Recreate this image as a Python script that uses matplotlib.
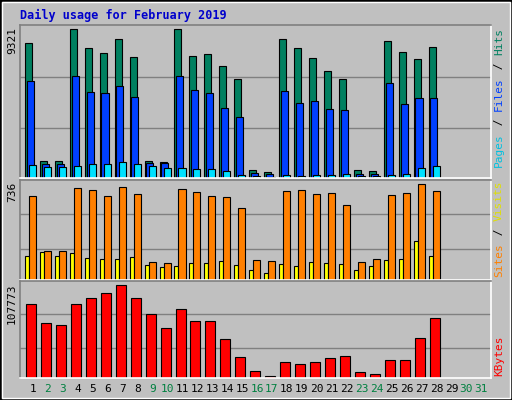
import matplotlib
matplotlib.use('Agg')
import matplotlib.pyplot as plt
import numpy as np
from matplotlib.patches import Rectangle

days = np.arange(1, 32)
n = 28
hits = [8436, 1097, 1097, 9321, 8183, 7866, 8689, 7613, 1097, 1033, 9321, 7677, 7803, 7044,
        6221, 527, 401, 8689, 8183, 7550, 6727, 6221, 527, 464, 8562, 7929, 7487, 8246]
files = [6095, 907, 907, 6411, 5399, 5336, 5779, 5083, 970, 970, 6411, 5526, 5336, 4387,
         3817, 337, 274, 5462, 4703, 4830, 4323, 4260, 274, 274, 5968, 4640, 5019, 5019]
pages = [844, 717, 717, 780, 907, 907, 1033, 907, 780, 654, 654, 590, 590, 464,
         211, 148, 84, 211, 148, 211, 211, 274, 148, 148, 211, 274, 654, 780]
visits = [640, 224, 224, 704, 688, 640, 712, 656, 136, 128, 696, 672, 640, 632,
          552, 152, 144, 680, 688, 656, 664, 576, 136, 160, 648, 664, 736, 680]
sites = [184, 216, 184, 208, 168, 160, 160, 176, 112, 96, 104, 128, 128, 144,
         112, 80, 56, 120, 104, 136, 128, 120, 80, 104, 152, 160, 296, 184]
kbytes = [85350, 64110, 61750, 85350, 92430, 98330, 107773, 92430, 73550, 58210, 79450,
          65290, 65290, 45230, 23990, 8650, 2750, 18090, 15730, 18090, 22810, 25170,
          7470, 5110, 20450, 20450, 46410, 68830]
weekend = [2, 3, 9, 10, 16, 17, 23, 24, 30, 31]

BG = '#C0C0C0'
W, H = 512, 400
fig = plt.figure(figsize=(W/100, H/100), dpi=100, facecolor=BG)
fig.patches.append(Rectangle((0, 0), 1, 1, transform=fig.transFigure, fill=False,
                             edgecolor='black', linewidth=2))
fig.patches.append(Rectangle((2/W, 2/H), 1-4/W, 1-4/H, transform=fig.transFigure, fill=False,
                             edgecolor='white', linewidth=1))
mono = 'DejaVu Sans Mono'

def px_axes(x0, y0, x1, y1):
    return fig.add_axes([x0/W, 1-y1/H, (x1-x0)/W, (y1-y0)/H])

x = np.arange(1, n+1)
xlim = (0.15, 31.65)

def style(ax, ymax, grid):
    ax.set_facecolor(BG)
    ax.set_xlim(*xlim); ax.set_ylim(0, ymax)
    for g in grid:
        ax.axhline(g, color='#808080', linewidth=1, zorder=0)
    ax.set_xticks([]); ax.set_yticks([])
    for s in ['top', 'left']:
        ax.spines[s].set_color('#808080')
    for s in ['bottom', 'right']:
        ax.spines[s].set_color('white')
    for s in ax.spines.values():
        s.set_linewidth(1.2)

kw = dict(edgecolor='black', linewidth=0.8, align='edge')
ax1 = px_axes(20, 25, 491, 178)
style(ax1, 9595, [3121, 6347])
ax1.bar(x - 0.52, hits, 0.47, color='#008060', **kw)
ax1.bar(x - 0.40, files, 0.47, color='#0040FF', **kw)
ax1.bar(x - 0.25, pages, 0.47, color='#00E0FF', **kw)

ax2 = px_axes(20, 180, 491, 280)
style(ax2, 765, [240, 504])
ax2.bar(x - 0.52, sites, 0.27, color='#FFFF00', **kw)
ax2.bar(x - 0.25, visits, 0.47, color='#FF8000', **kw)

ax3 = px_axes(20, 281, 491, 378)
style(ax3, 112090, [34610, 73550])
ax3.bar(x - 0.45, kbytes, 0.67, color='#FF0000', **kw)

# day labels
for d in days:
    xf = (20 + (d - xlim[0]) / (xlim[1] - xlim[0]) * 471) / W
    fig.text(xf, 1 - 389/H, str(d), ha='center', va='center', fontsize=8,
             family=mono, color='#008040' if d in weekend else 'black')

fig.text(20/W, 1 - 15/H, 'Daily usage for February 2019', fontsize=8.5, family=mono,
         weight='bold', color='#0000CC', va='center', ha='left')

for label, ytop in [(str(max(hits)), 27), (str(max(visits)), 182), (str(max(kbytes)), 283)]:
    fig.text(12/W, 1 - ytop/H, label, rotation=90, fontsize=8, family=mono,
             ha='center', va='top')

def vlabel(parts, ybottom):
    cw = 7.0
    y = ybottom
    for txt, col in parts:
        fig.text(499/W, 1 - y/H, txt, rotation=90, fontsize=8, family=mono, color=col,
                 ha='center', va='bottom')
        y -= cw * len(txt)

vlabel([('Pages', '#00C0E0'), (' / ', 'black'), ('Files', '#0040FF'), (' / ', 'black'),
        ('Hits', '#008060')], 167)
vlabel([('Sites', '#FF8000'), (' / ', 'black'), ('Visits', '#E0E000')], 277)
vlabel([('KBytes', '#FF0000')], 376)

fig.savefig('out.png', dpi=100, facecolor=BG)
